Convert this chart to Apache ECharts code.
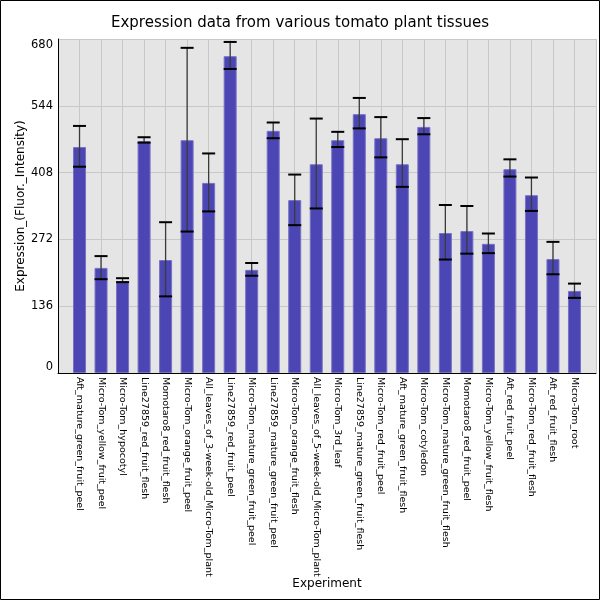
<!DOCTYPE html>
<html>
<head>
<meta charset="utf-8">
<script src="https://cdn.jsdelivr.net/npm/echarts@6/dist/echarts.min.js"></script>
<style>
html,body{margin:0;padding:0;background:#fff;}
#chart{width:600px;height:600px;}
</style>
</head>
<body>
<div id="chart"></div>
<script>
const categories = [
  "Aft_mature_green_fruit_peel",
  "Micro-Tom_yellow_fruit_peel",
  "Micro-Tom_hypocotyl",
  "Line27859_red_fruit_flesh",
  "Momotaro8_red_fruit_flesh",
  "Micro-Tom_orange_fruit_peel",
  "All_leaves_of_3-week-old_Micro-Tom_plant",
  "Line27859_red_fruit_peel",
  "Micro-Tom_mature_green_fruit_peel",
  "Line27859_mature_green_fruit_peel",
  "Micro-Tom_orange_fruit_flesh",
  "All_leaves_of_5-week-old_Micro-Tom_plant",
  "Micro-Tom_3rd_leaf",
  "Line27859_mature_green_fruit_flesh",
  "Micro-Tom_red_fruit_peel",
  "Aft_mature_green_fruit_flesh",
  "Micro-Tom_cotyledon",
  "Micro-Tom_mature_green_fruit_flesh",
  "Momotaro8_red_fruit_peel",
  "Micro-Tom_yellow_fruit_flesh",
  "Aft_red_fruit_peel",
  "Micro-Tom_red_fruit_flesh",
  "Aft_red_fruit_flesh",
  "Micro-Tom_root"
];
const values  = [460,214,187,472,230,474,387,645,210,493,352,425,474,527,478,425,501,285,289,263,415,362,232,167];
const errLow  = [420,191,185,469,156,288,329,619,198,478,301,335,460,498,439,379,486,231,243,244,400,330,201,153];
const errHigh = [503,238,193,480,307,662,447,674,224,510,404,518,491,560,521,476,519,342,340,284,435,398,267,182];
const yTicks = [0,136,272,408,544,680];

const FONT = 'DejaVu Sans';
const barData = values.map((v, i) => [i + 1, v]);
const errData = values.map((v, i) => [i + 1, errLow[i], errHigh[i]]);

const chart = echarts.init(document.getElementById('chart'), null, {renderer: 'canvas'});
chart.setOption({
  animation: false,
  backgroundColor: '#ffffff',
  title: {
    text: 'Expression data from various tomato plant tissues',
    left: 'center',
    top: 11,
    textStyle: {fontFamily: FONT, fontSize: 15, fontWeight: 'normal', color: '#000'}
  },
  grid: {left: 58, right: 4, top: 39, bottom: 227, containLabel: false,
         outerBoundsMode: 'none',
         show: true, backgroundColor: '#e5e5e5', borderWidth: 0},
  xAxis: {
    type: 'value', min: 0, max: 25, interval: 1,
    name: 'Experiment', nameLocation: 'middle', nameGap: 205, nameMoveOverlap: false,
    nameTextStyle: {fontFamily: FONT, fontSize: 12, color: '#000'},
    axisLine: {show: true, onZero: false, lineStyle: {color: '#000', width: 1}},
    axisTick: {show: false},
    splitLine: {show: true, lineStyle: {color: '#c8c8c8', width: 1}},
    axisLabel: {
      rotate: -90, margin: 4, fontFamily: FONT, fontSize: 9.5, color: '#000',
      formatter: v => categories[v - 1] || ''
    }
  },
  yAxis: {
    type: 'value', min: yTicks[0], max: yTicks[yTicks.length - 1], interval: 136,
    name: 'Expression_(Fluor._Intensity)', nameLocation: 'middle', nameGap: 31, nameMoveOverlap: false,
    nameTextStyle: {fontFamily: FONT, fontSize: 12, color: '#000'},
    axisLine: {show: true, lineStyle: {color: '#000', width: 1}},
    axisTick: {show: false},
    splitLine: {show: true, lineStyle: {color: '#c8c8c8', width: 1}},
    axisLabel: {fontFamily: FONT, fontSize: 11.5, color: '#000', margin: 5,
      verticalAlignMinLabel: 'bottom', verticalAlignMaxLabel: 'top'}
  },
  graphic: [{
    type: 'rect', z: 100, silent: true,
    shape: {x: 0.5, y: 0.5, width: 599, height: 599},
    style: {fill: 'none', stroke: '#000', lineWidth: 1}
  }],
  series: [
    {
      type: 'bar', data: barData, barWidth: 13,
      itemStyle: {color: '#4b46b3', borderColor: '#7672c6', borderWidth: 1}
    },
    {
      type: 'custom', data: errData, z: 5,
      renderItem: function (params, api) {
        const x = api.value(0);
        const lo = api.coord([x, api.value(1)]);
        const hi = api.coord([x, api.value(2)]);
        const hw = 6.5;
        return {
          type: 'group',
          children: [
            {type: 'line', shape: {x1: lo[0], y1: lo[1], x2: hi[0], y2: hi[1]},
             style: {stroke: '#3a3a3a', lineWidth: 1.3}},
            {type: 'line', shape: {x1: hi[0] - hw, y1: hi[1], x2: hi[0] + hw, y2: hi[1]},
             style: {stroke: '#000', lineWidth: 2}},
            {type: 'line', shape: {x1: lo[0] - hw, y1: lo[1], x2: lo[0] + hw, y2: lo[1]},
             style: {stroke: '#000', lineWidth: 2}}
          ]
        };
      }
    }
  ]
});
</script>
</body>
</html>
